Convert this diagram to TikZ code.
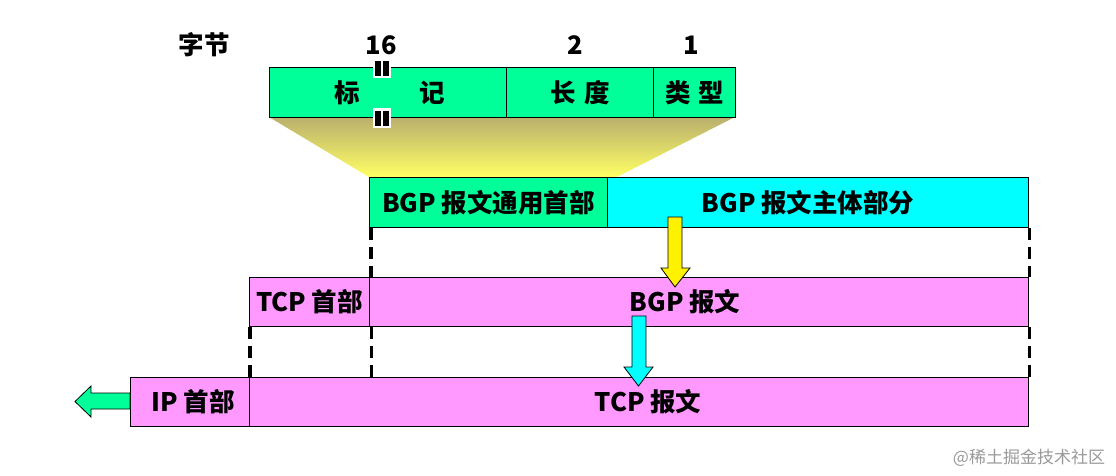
\documentclass[tikz,border=0pt]{standalone}
\usepackage{fontspec}
\setmainfont{Noto Sans CJK SC}
\begin{document}
\begin{tikzpicture}[x=1pt,y=-1pt,
  cell/.style={draw=black, line width=1.1pt, inner sep=0pt, anchor=north west, font=\bfseries\fontsize{25.5}{28}\selectfont},
  lbl/.style={inner sep=0pt, font=\bfseries\fontsize{25.5}{28}\selectfont},
  dashv/.style={line width=3.2pt, dash pattern=on 12pt off 7pt},
  blockarrow/.style={draw=black, line width=0.8pt}
]
\useasboundingbox (0,0) rectangle (1116,475);
\definecolor{mint}{RGB}{0,255,153}
\definecolor{aqua}{RGB}{0,255,255}
\definecolor{pinkish}{RGB}{255,153,255}
\definecolor{olive}{RGB}{185,175,110}
\definecolor{lightyel}{RGB}{255,255,100}

% yellow projection
\shade[top color=olive, bottom color=lightyel] (269,117) -- (735,117) -- (617,177) -- (369,177) -- cycle;

% top header box
\node[cell, fill=mint, minimum width=237pt, minimum height=50pt] (marker) at (269,67) {};
\node[cell, fill=mint, minimum width=147pt, minimum height=50pt] (length) at (506,67) {长\hspace{9pt}度};
\node[cell, fill=mint, minimum width=82pt, minimum height=50pt] (type) at (653,67) {类\hspace{7pt}型};
\node[lbl] (biao) at (347,93) {标};
\node[lbl] (ji) at (432,93) {记};

% byte labels
\node[lbl] (bytes) at (204,45) {字节};
\node[lbl] (n16) at (381,45) {16};
\node[lbl] (n2) at (575,45) {2};
\node[lbl] (n1) at (691,45) {1};

% break marks
\foreach \yy in {60,110}{
  \fill[white] (373,\yy-2) rectangle (391,\yy+18);
  \fill[black] (375,\yy+1) rectangle (380.5,\yy+16);
  \fill[black] (383,\yy+1) rectangle (388.5,\yy+16);
}

% BGP row
\node[cell, fill=mint, minimum width=238pt, minimum height=50pt] (bgphdr) at (369,177) {BGP 报文通用首部};
\node[cell, fill=aqua, minimum width=421pt, minimum height=50pt] (bgpbody) at (607,177) {\hspace{-20pt}BGP 报文主体部分};

% TCP row
\node[cell, fill=pinkish, minimum width=120pt, minimum height=49pt] (tcphdr) at (249,277) {TCP 首部};
\node[cell, fill=pinkish, minimum width=659pt, minimum height=49pt] (bgpmsg) at (369,277) {\hspace{-28pt}BGP 报文};

% IP row
\node[cell, fill=pinkish, minimum width=119pt, minimum height=49pt] (iphdr) at (130,377) {\hspace{6pt}IP 首部};
\node[cell, fill=pinkish, minimum width=779pt, minimum height=49pt] (tcpmsg) at (249,377) {\hspace{18pt}TCP 报文};

% dashed guides
\draw[dashv] (bgphdr.south west) ++(2,0) -- ++(0,50);
\draw[dashv] (bgpbody.south east) -- (bgpmsg.north east);
\draw[dashv] (tcphdr.south west) ++(1,0) -- ++(0,51);
\draw[dashv] (tcphdr.south east) ++(1,0) -- ++(0,51);
\draw[dashv] (bgpmsg.south east) -- (tcpmsg.north east);

% yellow down arrow
\filldraw[blockarrow, fill=yellow] (668,217) -- (682,217) -- (682,268) -- (690,268) -- (675,287) -- (661,268) -- (668,268) -- cycle;
% cyan down arrow
\filldraw[blockarrow, fill=aqua] (632,316) -- (646,316) -- (646,367) -- (653,367) -- (638.5,386) -- (624,367) -- (632,367) -- cycle;
% green left arrow
\filldraw[blockarrow, fill=mint] (130,393) -- (91,393) -- (91,386) -- (75,401.5) -- (91,417) -- (91,409) -- (130,409) -- cycle;

% watermark
\node[inner sep=0pt, text=black!40, font=\fontsize{17}{19}\selectfont] (wm) at (1029,458) {@稀土掘金技术社区};
\end{tikzpicture}
\end{document}
